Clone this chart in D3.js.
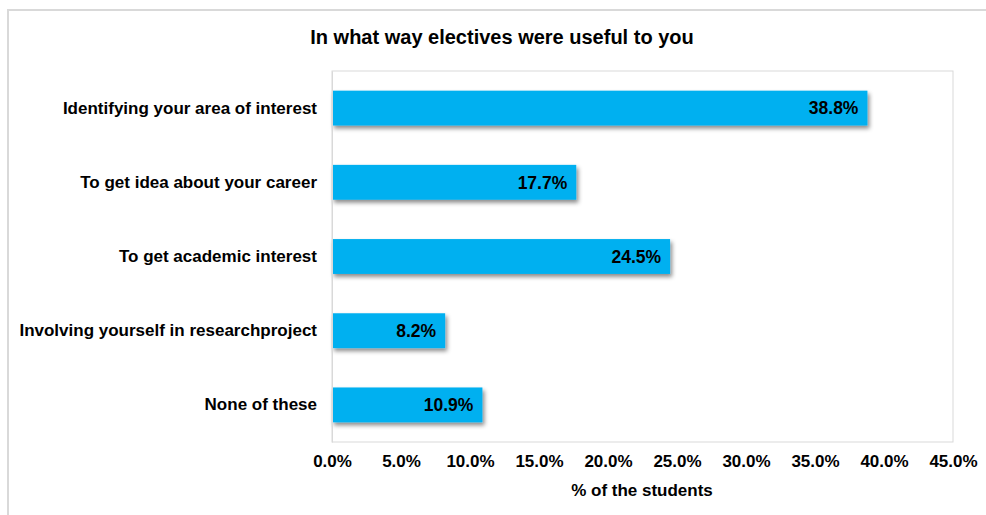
<!DOCTYPE html>
<html>
<head>
<meta charset="utf-8">
<script src="https://cdn.jsdelivr.net/npm/d3@7"></script>
<style>
  html, body { margin: 0; padding: 0; background: #fff; }
  svg text { font-family: "Liberation Sans", Arial, sans-serif; font-weight: bold; fill: #000; }
</style>
</head>
<body>
<script>
const categories = [
  "Identifying your area of interest",
  "To get idea about your career",
  "To get academic interest",
  "Involving yourself in researchproject",
  "None of these"
];
const values = [38.8, 17.7, 24.5, 8.2, 10.9];
const xTicks = [0, 5, 10, 15, 20, 25, 30, 35, 40, 45];
const title = "In what way electives were useful to you";
const xTitle = "% of the students";

const W = 986, H = 515;
const plot = { left: 332, right: 953, top: 71, bottom: 442 };

const svg = d3.select("body").append("svg").attr("width", W).attr("height", H);

const defs = svg.append("defs");
const f = defs.append("filter").attr("id", "shadow").attr("x", "-10%").attr("y", "-30%").attr("width", "130%").attr("height", "180%");
f.append("feDropShadow").attr("dx", 2).attr("dy", 3).attr("stdDeviation", 2)
  .attr("flood-color", "#000").attr("flood-opacity", 0.45);

// outer frame
svg.append("path")
  .attr("d", `M8,${H} L8,10 L${W},10`)
  .attr("fill", "none").attr("stroke", "#d9d9d9").attr("stroke-width", 2);

// plot area border
svg.append("rect")
  .attr("x", plot.left).attr("y", plot.top)
  .attr("width", plot.right - plot.left).attr("height", plot.bottom - plot.top)
  .attr("fill", "none").attr("stroke", "#d9d9d9").attr("stroke-width", 1);

const x = d3.scaleLinear().domain([0, 45]).range([plot.left, plot.right]);
const y = d3.scaleBand().domain(categories).range([plot.top, plot.bottom]).paddingInner(0.53).paddingOuter(0.265);

// bars
svg.append("g").selectAll("rect").data(values).join("rect")
  .attr("x", x(0))
  .attr("y", (d, i) => y(categories[i]))
  .attr("width", d => x(d) - x(0))
  .attr("height", y.bandwidth())
  .attr("fill", "#00B0F0")
  .attr("filter", "url(#shadow)");

// data labels
svg.append("g").selectAll("text").data(values).join("text")
  .attr("x", d => x(d) - 9)
  .attr("y", (d, i) => y(categories[i]) + y.bandwidth() / 2)
  .attr("dy", "0.36em")
  .attr("text-anchor", "end")
  .attr("font-size", 17.5)
  .text(d => d.toFixed(1) + "%");

// y axis
const yAxis = svg.append("g").attr("transform", `translate(${plot.left},0)`)
  .call(d3.axisLeft(y).tickSize(0).tickPadding(15));
yAxis.select(".domain").attr("stroke", "#d9d9d9");
yAxis.selectAll("text").attr("font-size", 17).attr("fill", "#000");

// x axis
const xAxis = svg.append("g").attr("transform", `translate(0,${plot.bottom})`)
  .call(d3.axisBottom(x).tickValues(xTicks).tickSize(0).tickPadding(13).tickFormat(d => d.toFixed(1) + "%"));
xAxis.select(".domain").remove();
xAxis.selectAll("text").attr("font-size", 17).attr("fill", "#000");

// title
svg.append("text").attr("x", 502).attr("y", 44).attr("text-anchor", "middle")
  .attr("font-size", 20).text(title);

// x axis title
svg.append("text").attr("x", 642).attr("y", 496).attr("text-anchor", "middle")
  .attr("font-size", 17).text(xTitle);
</script>
</body>
</html>
